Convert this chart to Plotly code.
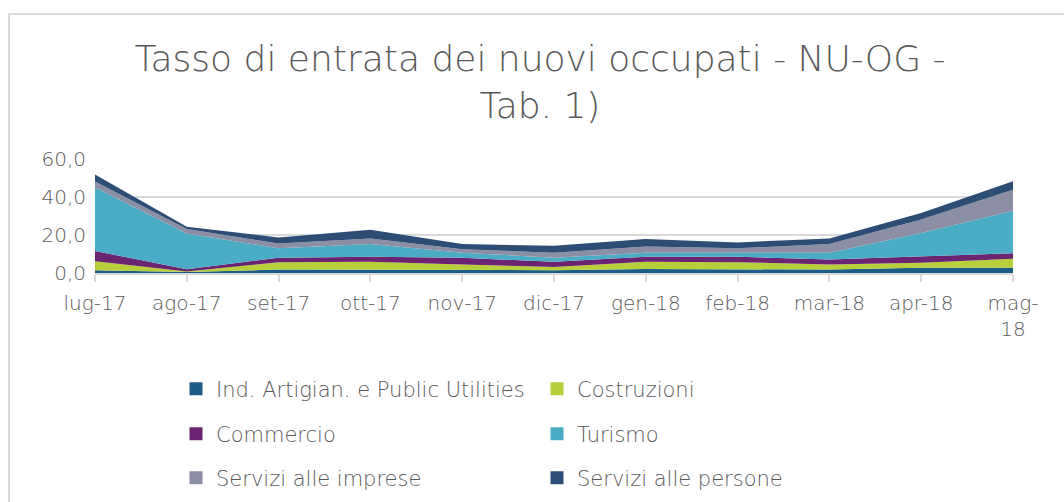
import plotly.graph_objects as go

categories = ["lug-17", "ago-17", "set-17", "ott-17", "nov-17", "dic-17",
              "gen-18", "feb-18", "mar-18", "apr-18", "mag-18"]
tick_labels = ["lug-17", "ago-17", "set-17", "ott-17", "nov-17", "dic-17",
               "gen-18", "feb-18", "mar-18", "apr-18", "mag-<br>18"]

ind_artigian = [1.4, 0.5, 1.8, 1.8, 1.5, 1.5, 2.1, 2.0, 1.8, 2.7, 2.7]
costruzioni = [4.8, 0.3, 3.9, 4.1, 3.0, 1.7, 3.8, 3.7, 2.7, 2.7, 4.8]
commercio = [5.4, 1.2, 2.3, 2.7, 3.5, 2.7, 2.7, 2.9, 2.6, 3.2, 2.9]
turismo = [33.4, 18.8, 5.0, 6.6, 2.7, 2.1, 2.1, 2.1, 3.6, 12.5, 22.3]
servizi_imprese = [3.2, 2.3, 2.5, 3.0, 1.8, 2.7, 3.2, 2.3, 4.5, 7.1, 11.1]
servizi_persone = [3.6, 1.3, 3.2, 4.5, 2.7, 3.6, 4.0, 3.1, 3.0, 3.4, 4.5]

series = [
    ("Ind. Artigian. e Public Utilities", ind_artigian, "#1d5c87", "legend"),
    ("Costruzioni", costruzioni, "#b7cf3b", "legend"),
    ("Commercio", commercio, "#6b2470", "legend2"),
    ("Turismo", turismo, "#4bacc6", "legend2"),
    ("Servizi alle imprese", servizi_imprese, "#8c8ea3", "legend3"),
    ("Servizi alle persone", servizi_persone, "#2e4d75", "legend3"),
]

font_family = "'DejaVu Sans', sans-serif"
text_color = "#595959"
light = 200

fig = go.Figure()
for name, vals, color, _ in series:
    fig.add_trace(go.Scatter(
        x=categories, y=vals, name=name, mode="lines",
        stackgroup="one", line=dict(width=0, color=color),
        fillcolor=color, showlegend=False, hoverinfo="x+y+name",
    ))
for name, vals, color, leg in series:
    fig.add_trace(go.Scatter(
        x=[None], y=[None], name=name, mode="markers",
        marker=dict(symbol="square", size=13, color=color, line=dict(width=0)),
        legend=leg, showlegend=True,
    ))

W, H = 1064, 502
L, R, T, B = 95, 51, 159, 229
pw = W - L - R
ph = H - T - B

def lx(px):
    return (px - L) / pw

def ly(py):
    return (H - B - py) / ph

leg_common = dict(
    orientation="h", xanchor="left", yanchor="middle", traceorder="normal",
    font=dict(family=font_family, size=21, color=text_color, weight=light),
    entrywidth=316, entrywidthmode="pixels", itemwidth=30,
    bgcolor="rgba(0,0,0,0)",
)

tick_font = dict(family=font_family, size=20, color=text_color, weight=light)

fig.update_layout(
    width=W, height=H,
    margin=dict(l=L, r=R, t=T, b=B, autoexpand=False),
    paper_bgcolor="white", plot_bgcolor="white",
    separators=",.",
    title=dict(
        text="Tasso di entrata dei nuovi occupati - NU-OG -<br>Tab. 1)",
        x=540 / W, xref="container", xanchor="center",
        y=1 - 71 / H, yref="container", yanchor="top",
        font=dict(family=font_family, size=36, color=text_color, weight=light),
    ),
    xaxis=dict(
        type="category", categoryorder="array", categoryarray=categories,
        tickmode="array", tickvals=categories, ticktext=tick_labels,
        range=[0, len(categories) - 1],
        showgrid=False, showline=True, linecolor="#d9d9d9", linewidth=1.5,
        ticks="outside", ticklen=7, tickcolor="#d9d9d9", tickwidth=1.5,
        tickfont=tick_font, tickangle=0, ticklabelstandoff=4, fixedrange=True,
    ),
    yaxis=dict(
        range=[0, 60], tickmode="array", tickvals=[0, 20, 40, 60],
        tickformat=".1f", showgrid=True, gridcolor="#d9d9d9", gridwidth=1.5,
        zeroline=False, showline=False,
        tickfont=tick_font, ticks="", ticklabelstandoff=8, fixedrange=True,
    ),
    legend=dict(x=lx(176), y=ly(389), **leg_common),
    legend2=dict(x=lx(176), y=ly(434), **leg_common),
    legend3=dict(x=lx(176), y=ly(478), **leg_common),
    shapes=[dict(
        type="rect", xref="paper", yref="paper",
        x0=lx(9), x1=lx(W + 10), y0=ly(H + 10), y1=ly(14),
        line=dict(color="#d9d9d9", width=2), fillcolor="rgba(0,0,0,0)",
        layer="below",
    )],
    showlegend=True,
)

fig.write_html("out.html")
